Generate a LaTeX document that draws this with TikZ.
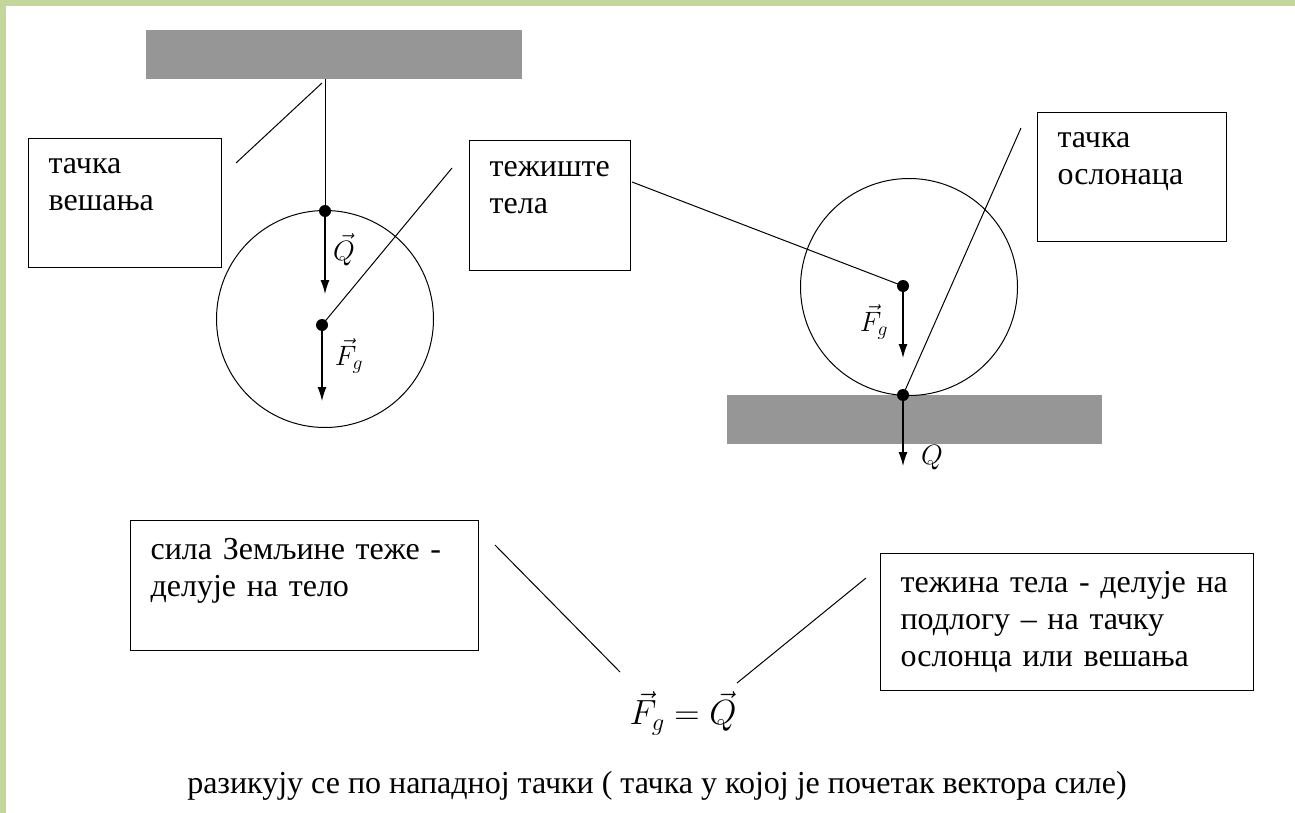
\RequirePackage{fix-cm}
\documentclass[tikz,border=0pt]{standalone}
\usepackage{fontspec}
\setmainfont{Liberation Serif}
\usetikzlibrary{arrows.meta}

\definecolor{framegreen}{RGB}{195,214,155}
\definecolor{bargray}{RGB}{150,150,150}

\begin{document}
\begin{tikzpicture}[x=1pt,y=-1pt,
    callbox/.style={draw,line width=1.2pt,align=left,anchor=north west,
        inner xsep=20pt,inner ysep=0pt,font=\fontsize{32}{37}\selectfont},
    slab/.style={fill=bargray,inner sep=0pt},
    ball/.style={circle,draw,line width=1pt,inner sep=0pt,minimum size=217pt},
    dot/.style={circle,fill,inner sep=0pt,minimum size=12pt},
    force/.style={-{Latex[length=14pt,width=9pt]},line width=1.3pt},
    pin/.style={line width=1pt},
    lbl/.style={font=\fontsize{28}{32}\selectfont}]

\useasboundingbox (0,0) rectangle (1295,813);
\fill[white] (0,0) rectangle (1295,813);
\fill[framegreen] (0,0) rectangle (1295,6);
\fill[framegreen] (0,0) rectangle (6,813);

% left body, hanging
\node[slab,minimum width=376pt,minimum height=49pt] (ceiling) at (334,54.5) {};
\node[ball] (ball1) at (325,319) {};
\node[dot] (hang) at (325,211) {};
\node[dot] (cg1) at (322,325) {};
\coordinate (hook) at (325,79);
\coordinate (q1end) at (325,294);
\coordinate (f1end) at (322,401);
\draw[pin] (hook) -- (hang.center);
\draw[force] (hang.center) -- (q1end);
\draw[force] (cg1.center) -- (f1end);
\node[lbl] (q1lab) at (344,250) {$\vec{Q}$};
\node[lbl] (f1lab) at (349,356) {$\vec{F}_{g}$};

% right body, on support
\node[slab,minimum width=375pt,minimum height=49pt] (floor) at (914.5,419.5) {};
\node[ball] (ball2) at (909,287) {};
\node[dot] (cg2) at (903,286) {};
\node[dot] (rest) at (903,395) {};
\coordinate (f2end) at (903,358);
\coordinate (q2end) at (903,466);
\draw[force] (cg2.center) -- (f2end);
\draw[force] (rest.center) -- (q2end);
\node[lbl] (f2lab) at (874,322) {$\vec{F}_{g}$};
\node[lbl] (q2lab) at (932,458) {$Q$};

% callout boxes
\node[callbox,minimum height=129pt,text width=153pt] (vesanje) at (28,138) {тачка\\вешања\\\mbox{}};
\node[callbox,minimum height=130pt,text width=121pt] (teziste) at (469,140) {тежиште\\тела\\\mbox{}};
\node[callbox,minimum height=129pt,text width=149pt] (oslonac) at (1037,112) {тачка\\ослонаца\\\mbox{}};
\node[callbox,minimum height=130pt,text width=308pt] (sila) at (130,520) {сила Земљине теже -\\делује на тело\\\mbox{}};
\node[callbox,minimum height=137pt,text width=333pt] (tezina) at (880,553) {тежина тела - делује на\\подлогу – на тачку\\ослонца или вешања};

% callout lines
\coordinate (vesanjepin) at (236,163);
\coordinate (hookpin) at (322,83);
\coordinate (tezistepin) at (452,168);
\coordinate (teziste2pin) at (632,182);
\coordinate (oslonacpin) at (1021,128);
\coordinate (silapin) at (495,545);
\coordinate (silaend) at (620,672);
\coordinate (tezinapin) at (866,578);
\coordinate (tezinaend) at (737,683);
\draw[pin] (vesanjepin) -- (hookpin);
\draw[pin] (tezistepin) -- (cg1.center);
\draw[pin] (teziste2pin) -- (cg2.center);
\draw[pin] (oslonacpin) -- (rest.center);
\draw[pin] (silapin) -- (silaend);
\draw[pin] (tezinapin) -- (tezinaend);

% equation and note
\node[font=\fontsize{35}{40}\selectfont] (eq) at (683,713) {$\vec{F}_{g} = \vec{Q}$};
\node[font=\fontsize{32}{36}\selectfont] (note) at (657,786) {разикују се по нападној тачки ( тачка у којој је почетак вектора силе)};

\end{tikzpicture}
\end{document}
